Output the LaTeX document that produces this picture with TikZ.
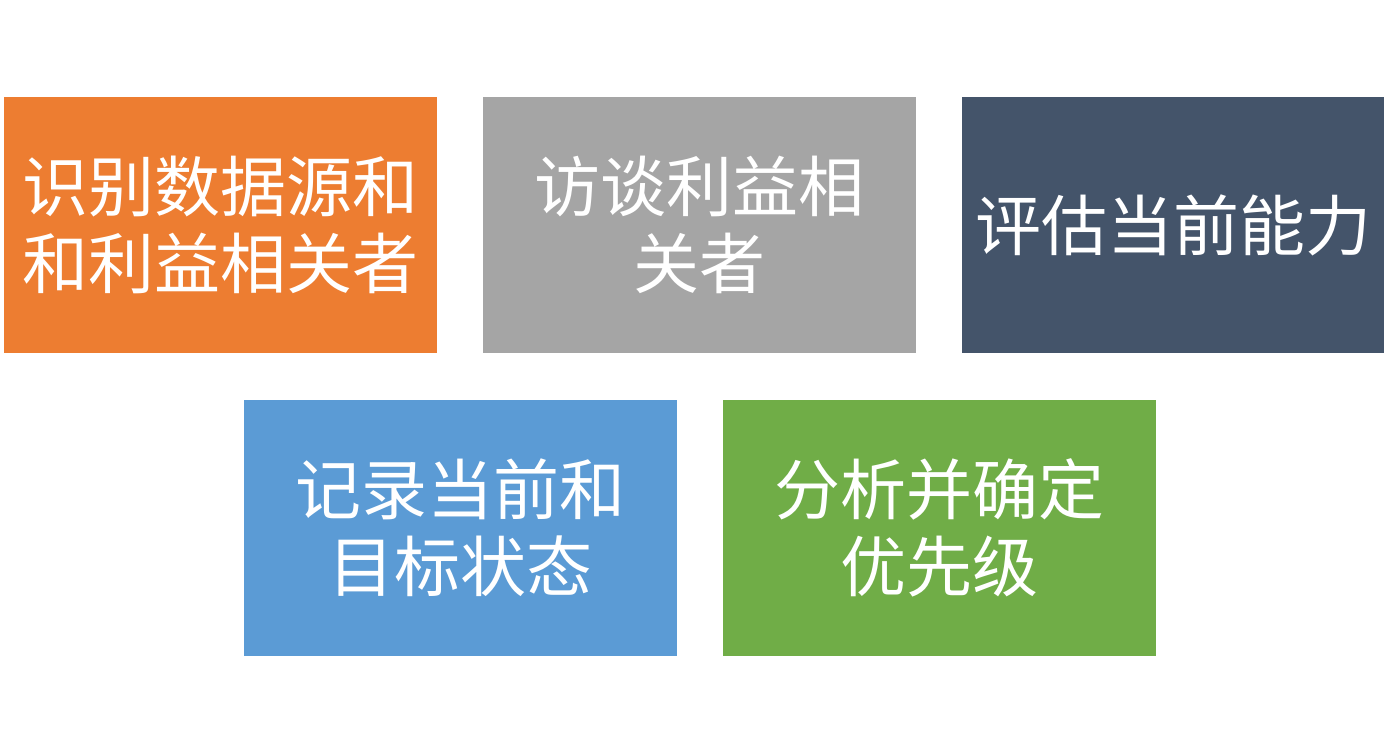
\documentclass[tikz,border=0pt]{standalone}
\usepackage{fontspec}
\newfontfamily\cjk{Noto Sans CJK SC}
\definecolor{cOrange}{HTML}{ED7D31}
\definecolor{cGray}{HTML}{A5A5A5}
\definecolor{cDark}{HTML}{44546A}
\definecolor{cBlue}{HTML}{5B9BD5}
\definecolor{cGreen}{HTML}{70AD47}
\begin{document}
\begin{tikzpicture}[x=1pt,y=-1pt,
  box/.style={draw=none,minimum width=433pt,minimum height=256pt,inner sep=0pt,
    text=white,align=center,font=\cjk\fontsize{66pt}{77pt}\selectfont}]
\useasboundingbox[fill=white] (0,0) rectangle (1384,752);
\node[box,fill=cOrange] (a) at (220.5,225) {识别数据源和\\和利益相关者};
\node[box,fill=cGray] (b) at (699.5,225) {访谈利益相\\关者};
\node[box,fill=cDark,minimum width=422pt] (c) at (1173,225) {评估当前能力};
\node[box,fill=cBlue] (d) at (460,528) {记录当前和\\目标状态};
\node[box,fill=cGreen] (e) at (939,528) {分析并确定\\优先级};
\end{tikzpicture}
\end{document}
